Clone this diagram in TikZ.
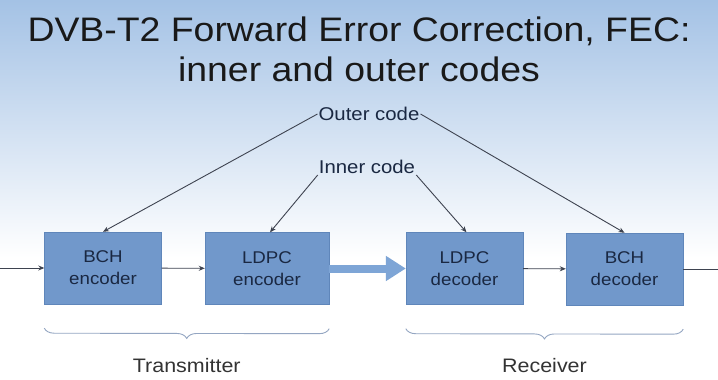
\documentclass[tikz,border=0pt]{standalone}
\usepackage{fontspec}
\usepackage{graphicx}
\setmainfont{Liberation Sans}
\usetikzlibrary{arrows.meta,decorations.pathreplacing}

\definecolor{skytop}{HTML}{A4C2E5}
\definecolor{boxfill}{HTML}{7198CB}
\definecolor{boxline}{HTML}{5F86BA}
\definecolor{boxtext}{HTML}{1A2842}
\definecolor{wire}{HTML}{3E4350}
\definecolor{fatarrow}{HTML}{7EA5D6}
\definecolor{bracecol}{HTML}{94A6C2}

\newcommand{\wide}[1]{\scalebox{1.1}[1]{#1}}

\tikzset{
	block/.style={draw=boxline, fill=boxfill, text=boxtext, align=center,
		minimum width=117pt, minimum height=72pt, inner sep=0pt,
		font=\fontsize{17}{22}\selectfont},
	codelabel/.style={text=boxtext, inner sep=1pt, font=\fontsize{18.5}{22}\selectfont},
	sidelabel/.style={text=black!80, font=\fontsize{19.5}{23}\selectfont},
	link/.style={draw=wire, line width=0.9pt, -{Stealth[length=6pt,width=5pt]}},
	curly/.style={draw=bracecol, line width=0.9pt,
		decorate, decoration={brace, mirror, amplitude=10pt}}
}

\begin{document}
\begin{tikzpicture}[x=1pt, y=-1pt]
		\useasboundingbox (0,0) rectangle (718,380);
		\fill[white] (0,0) rectangle (718,380);
		\shade[top color=skytop, bottom color=white] (0,0) rectangle (718,258);
	
		\node[text=black!90, align=center, font=\fontsize{34}{40}\selectfont] (title) at (359,49)
			{\wide{DVB-T2 Forward Error Correction, FEC:}\\\wide{inner and outer codes}};
	
		\node[block] (bchenc) at (103,268) {\wide{BCH}\\\wide{encoder}};
		\node[block, minimum width=124pt] (ldpcenc) at (267,268.5) {\wide{LDPC}\\\wide{encoder}};
		\node[block] (ldpcdec) at (464.5,268.5) {\wide{LDPC}\\\wide{decoder}};
		\node[block] (bchdec) at (624.5,269) {\wide{BCH}\\\wide{decoder}};
	
		\node[codelabel] (outer) at (369,114) {\wide{Outer code}};
		\node[codelabel] (inner) at (367,167) {\wide{Inner code}};
	
		\coordinate (src) at (0,268);
		\coordinate (sink) at (718,269);
	
		\draw[link] (src) -- (bchenc);
		\draw[link] (bchenc) -- (ldpcenc);
		\draw[draw=fatarrow, line width=8pt, -{Triangle[length=20pt,width=24pt]}] (ldpcenc.east) -- (ldpcdec.west);
		\draw[link] (ldpcdec) -- (bchdec);
		\draw[draw=wire, line width=0.9pt] (bchdec.east) -- (sink);
	
		\draw[link] (outer.west) -- (bchenc.north);
		\draw[link] (outer.east) -- (bchdec.north);
		\draw[link] (inner.south west) -- ([xshift=3pt]ldpcenc.north);
		\draw[link] (inner.south east) -- ([xshift=2pt]ldpcdec.north);
	
		\draw[curly] ([yshift=-24pt]bchenc.south west) -- ([yshift=-24pt]ldpcenc.south east)
			node[midway, below=26pt, sidelabel] (tx) {\wide{Transmitter}};
		\draw[curly] ([yshift=-24pt]ldpcdec.south west) -- ([yshift=-24pt]bchdec.south east)
			node[midway, below=26pt, sidelabel] (rx) {\wide{Receiver}};
	\end{tikzpicture}
\end{document}
